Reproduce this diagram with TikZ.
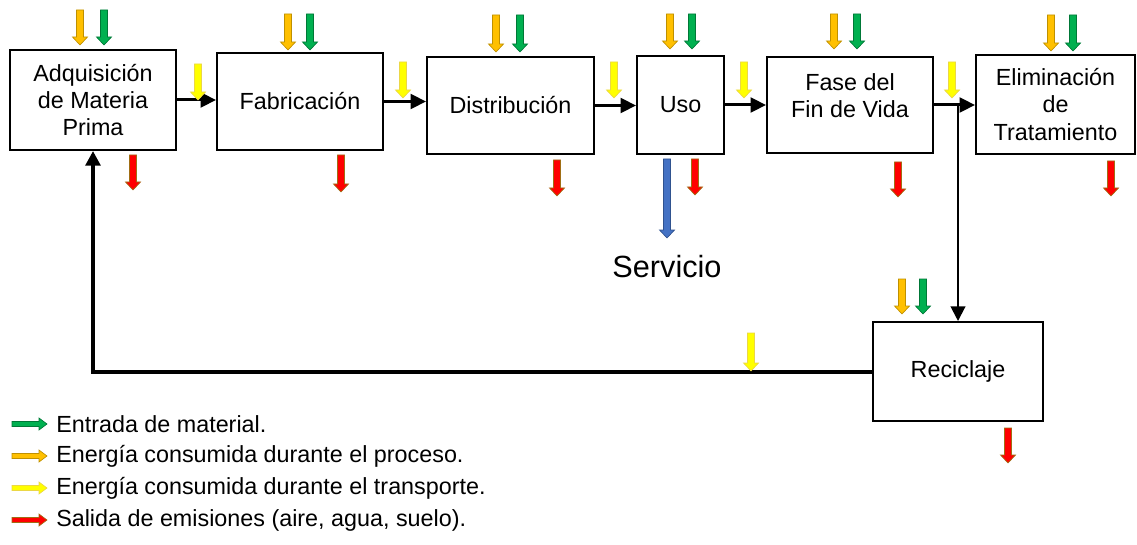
\documentclass[tikz,border=0pt]{standalone}
\usepackage{fontspec}
\setmainfont{Liberation Sans}
\usetikzlibrary{arrows.meta}
\definecolor{myorange}{RGB}{255,192,0}
\definecolor{myorangedk}{RGB}{191,144,0}
\definecolor{mygreen}{RGB}{0,176,80}
\definecolor{mygreendk}{RGB}{0,120,55}
\definecolor{myyellow}{RGB}{255,255,0}
\definecolor{myyellowdk}{RGB}{235,215,70}
\definecolor{myred}{RGB}{255,0,0}
\definecolor{myreddk}{RGB}{160,110,20}
\definecolor{myblue}{RGB}{68,114,196}
\definecolor{mybluedk}{RGB}{47,82,143}
\tikzset{
  box/.style 2 args={draw, line width=1.5pt, align=center, inner sep=0pt,
    minimum width=#1*0.75pt, minimum height=#2*0.75pt},
  flow/.style={line width=2.25pt, -{Triangle[length=11.5pt, width=11pt]}},
  branch/.style={line width=1.5pt, -{Triangle[length=11pt, width=11pt]}},
  feedback/.style={line width=3pt, -{Triangle[length=11pt, width=11pt]}},
  material/.style={fill=mygreen, draw=mygreendk, line width=0.5pt},
  process/.style={fill=myorange, draw=myorangedk, line width=0.5pt},
  transport/.style={fill=myyellow, draw=myyellowdk, line width=0.5pt},
  emission/.style={fill=myred, draw=myreddk, line width=0.5pt},
  service/.style={fill=myblue, draw=mybluedk, line width=0.5pt},
  pics/down/.style={code={
    \path[pic actions] (-3.5,0) -- (-3.5,#1-8) -- (-7.5,#1-8) -- (0,#1)
      -- (7.5,#1-8) -- (3.5,#1-8) -- (3.5,0) -- cycle;}},
  pics/right/.style={code={
    \path[pic actions] (0,-2.5) -- (#1-8,-2.5) -- (#1-8,-6) -- (#1,0)
      -- (#1-8,6) -- (#1-8,2.5) -- (0,2.5) -- cycle;}}
}
\begin{document}
\begin{tikzpicture}[x=0.75pt, y=-0.75pt, >=latex, font=\fontsize{17.5}{20.5}\selectfont]
	\useasboundingbox (0,0) rectangle (1137,545);
	% Phasen
	\node[box={166}{100}] (adq) at (93,100) {Adquisición\\de Materia\\Prima};
	\node[box={166}{97}] (fab) at (300,101.5) {Fabricación};
	\node[box={167}{97}] (dist) at (510.5,105.5) {Distribución};
	\node[box={87}{98}] (uso) at (680.5,105) {Uso};
	\node[box={166}{96}] (fin) at (850,105) {Fase del\\Fin de Vida\\[-6pt]\mbox{}};
	\node[box={159}{99}] (elim) at (1055.5,104.5) {Eliminación\\de\\Tratamiento};
	\node[box={170}{99}] (recic) at (958,371.5) {Reciclaje};
	% Verbindungen
	\draw[flow] (adq.east) -- (adq.east -| fab.west);
	\draw[flow] (fab.east) -- (fab.east -| dist.west);
	\draw[flow] (dist.east) -- (dist.east -| uso.west);
	\draw[flow] (uso.east) -- (uso.east -| fin.west);
	\draw[flow] (fin.east) -- (fin.east -| elim.west);
	\coordinate (split) at (fin.east -| recic.north);
	\draw[branch] (split) -- (recic.north);
	\draw[feedback] (recic.west) -| (adq.south);
	% Stroeme
	\foreach \x/\y/\l in {80/10/35, 288/14/36, 496/15/37, 670/14/35, 834/14/35, 1051/15/36, 902/279/35}
		\pic[process] at (\x,\y) {down=\l};
	\foreach \x/\y/\l in {104/10/35, 310/14/36, 520/15/37, 692/14/35, 857/14/35, 1073/15/36, 923/279/35}
		\pic[material] at (\x,\y) {down=\l};
	\foreach \x/\y/\l in {198/64/36, 403/62/36, 614/62/36, 744/62/36, 952/62/36, 751/333/38}
		\pic[transport] at (\x,\y) {down=\l};
	\foreach \x/\y/\l in {133/155/35, 341/155/37, 557/160/36, 695/159/36, 898/162/35, 1111/161/35, 1008/428/35}
		\pic[emission] at (\x,\y) {down=\l};
	\pic[service] at (667,159) {down=79};
	\node[font=\fontsize{23}{27}\selectfont] (serv) at (667,267) {Servicio};
	% Legende
	\foreach \s/\y/\t [count=\i] in {material/424/{Entrada de material.},
			process/456/{Energía consumida durante el proceso.},
			transport/488/{Energía consumida durante el transporte.},
			emission/520/{Salida de emisiones (aire, agua, suelo).}}{
		\pic[\s] at (12,\y) {right=35};
		\node[anchor=west, inner sep=0pt] (leg\i) at (56,\y) {\t};
	}
\end{tikzpicture}
\end{document}
